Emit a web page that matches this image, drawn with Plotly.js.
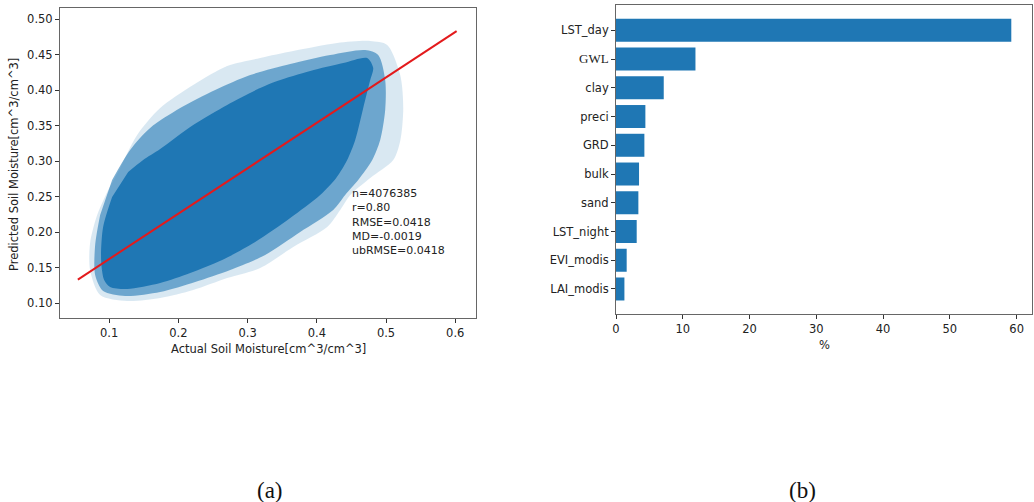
<!DOCTYPE html>
<html>
<head>
<meta charset="utf-8">
<script src="https://cdn.plot.ly/plotly-3.0.1.min.js"></script>
<style>html,body{margin:0;padding:0;background:#fff;}#chart{width:1034px;height:502px;}</style>
</head>
<body>
<div id="chart"></div>
<script>
// ---- (a) scatter cloud, density outlines ----
var coreX = [0.1275,0.1491,0.1737,0.2214,0.2705,0.3182,0.3428,0.3905,0.4382,0.4728,0.4815,0.4772,0.4671,0.4555,0.4439,0.4280,0.4049,0.3616,0.3110,0.2633,0.2171,0.1737,0.1260,0.1014,0.0928,0.0884,0.0913,0.1043];
var coreY = [0.2845,0.3014,0.3169,0.3507,0.3789,0.4028,0.4127,0.4268,0.4380,0.4451,0.4310,0.4141,0.3746,0.3296,0.3014,0.2761,0.2521,0.2197,0.1859,0.1606,0.1423,0.1282,0.1197,0.1225,0.1324,0.1606,0.2070,0.2493];
var midX = [0.1043,0.1303,0.1592,0.2026,0.2532,0.3038,0.3616,0.4194,0.4699,0.4887,0.4988,0.4988,0.4916,0.4801,0.4598,0.4410,0.4237,0.3760,0.3254,0.2749,0.2243,0.1737,0.1231,0.0913,0.0798,0.0798,0.0870];
var midY = [0.2732,0.3155,0.3465,0.3746,0.4000,0.4211,0.4366,0.4493,0.4563,0.4493,0.4141,0.3718,0.3296,0.3014,0.2732,0.2521,0.2310,0.2000,0.1676,0.1465,0.1296,0.1155,0.1099,0.1169,0.1394,0.1817,0.2239];
var haloX = [0.1159,0.1405,0.1737,0.2214,0.2705,0.3182,0.3659,0.4295,0.4772,0.5017,0.5205,0.5249,0.5205,0.5104,0.4772,0.4483,0.4338,0.4150,0.3659,0.3182,0.2705,0.2214,0.1737,0.1260,0.0870,0.0725,0.0725,0.0827,0.0986];
var haloY = [0.2901,0.3366,0.3746,0.4070,0.4338,0.4451,0.4549,0.4662,0.4690,0.4634,0.4211,0.3746,0.3282,0.3014,0.2761,0.2521,0.2310,0.2070,0.1789,0.1493,0.1352,0.1183,0.1070,0.1028,0.1113,0.1465,0.1845,0.2239,0.2592];
var fitX = [0.0548, 0.602];
var fitY = [0.133, 0.483];
var statsLines = ["n=4076385", "r=0.80", "RMSE=0.0418", "MD=-0.0019", "ubRMSE=0.0418"];
var xTicksA = [0.1,0.2,0.3,0.4,0.5,0.6];
var yTicksA = [0.10,0.15,0.20,0.25,0.30,0.35,0.40,0.45,0.50];

// ---- (b) feature importance ----
var features = ["LST_day","GWL","clay","preci","GRD","bulk","sand","LST_night","EVI_modis","LAI_modis"];
var importance = [59.2,11.9,7.15,4.4,4.25,3.45,3.35,3.1,1.6,1.26];
var xTicksB = [0,10,20,30,40,50,60];

var blue = '#1f77b4';
var tickFont = {family:'DejaVu Sans, sans-serif', size:11.5, color:'#222'};

var featsBottomUp = features.slice().reverse();
var impBottomUp = importance.slice().reverse();
var featPos = featsBottomUp.map(function(_,i){return i;});
var featText = featsBottomUp.map(function(f){
  return f === 'GWL' ? '<span style="font-family:Liberation Serif, serif;font-size:13px">GWL</span>' : f;
});

function cloud(x, y, color){
  return {x:x, y:y, type:'scatter', mode:'lines', fill:'toself', fillcolor:color, line:{width:0, shape:'spline', smoothing:0.8}, xaxis:'x', yaxis:'y', hoverinfo:'skip'};
}

var traces = [
  cloud(haloX, haloY, 'rgba(31,119,180,0.17)'),
  cloud(midX, midY, 'rgba(31,119,180,0.58)'),
  cloud(coreX, coreY, blue),
  {x: fitX, y: fitY, type:'scatter', mode:'lines', line:{color:'#e31a1c', width:2}, xaxis:'x', yaxis:'y', hoverinfo:'skip'},
  {x: impBottomUp, y: featPos, type:'bar', orientation:'h', width:0.8, marker:{color:blue}, xaxis:'x2', yaxis:'y2', hoverinfo:'skip'}
];

var axisCommon = {showline:true, mirror:true, linecolor:'#666', linewidth:1, ticks:'outside', ticklen:4, tickcolor:'#333', showgrid:false, zeroline:false, tickfont:tickFont};

var layout = {
  width:1034, height:502, margin:{l:0,r:0,t:0,b:0}, showlegend:false,
  paper_bgcolor:'#fff', plot_bgcolor:'#fff',
  xaxis: Object.assign({}, axisCommon, {domain:[60/1034, 476/1034], range:[0.029,0.630], tickvals:xTicksA, tickformat:'.1f', anchor:'y'}),
  yaxis: Object.assign({}, axisCommon, {domain:[1-318/502, 1-8/502], range:[0.0789,0.5155], tickvals:yTicksA, tickformat:'.2f', anchor:'x'}),
  xaxis2: Object.assign({}, axisCommon, {domain:[616/1034, 1032/1034], range:[0,62.3], tickvals:xTicksB, anchor:'y2'}),
  yaxis2: Object.assign({}, axisCommon, {domain:[1-314/502, 1-5/502], range:[-0.87,9.88], tickvals:featPos, ticktext:featText, anchor:'x2'}),
  annotations: [
    {xref:'x', yref:'y', x:0.448, y:0.266, xanchor:'left', yanchor:'top', align:'left', showarrow:false, text: statsLines.join('<br>'), font:{family:'DejaVu Sans, sans-serif', size:11, color:'#222'}},
    {xref:'paper', yref:'paper', x:268/1034, y:1-349/502, xanchor:'center', yanchor:'middle', showarrow:false, text:'Actual Soil Moisture[cm^3/cm^3]', font:tickFont},
    {xref:'paper', yref:'paper', x:14/1034, y:1-165/502, xanchor:'center', yanchor:'middle', showarrow:false, textangle:-90, text:'Predicted Soil Moisture[cm^3/cm^3]', font:tickFont},
    {xref:'paper', yref:'paper', x:824/1034, y:1-345/502, xanchor:'center', yanchor:'middle', showarrow:false, text:'%', font:tickFont},
    {xref:'paper', yref:'paper', x:270/1034, y:1-490/502, xanchor:'center', yanchor:'middle', showarrow:false, text:'(a)', font:{family:'Liberation Serif, serif', size:23, color:'#111'}},
    {xref:'paper', yref:'paper', x:802/1034, y:1-490/502, xanchor:'center', yanchor:'middle', showarrow:false, text:'(b)', font:{family:'Liberation Serif, serif', size:23, color:'#111'}}
  ]
};

Plotly.newPlot('chart', traces, layout, {staticPlot:true, displayModeBar:false});
</script>
</body>
</html>
